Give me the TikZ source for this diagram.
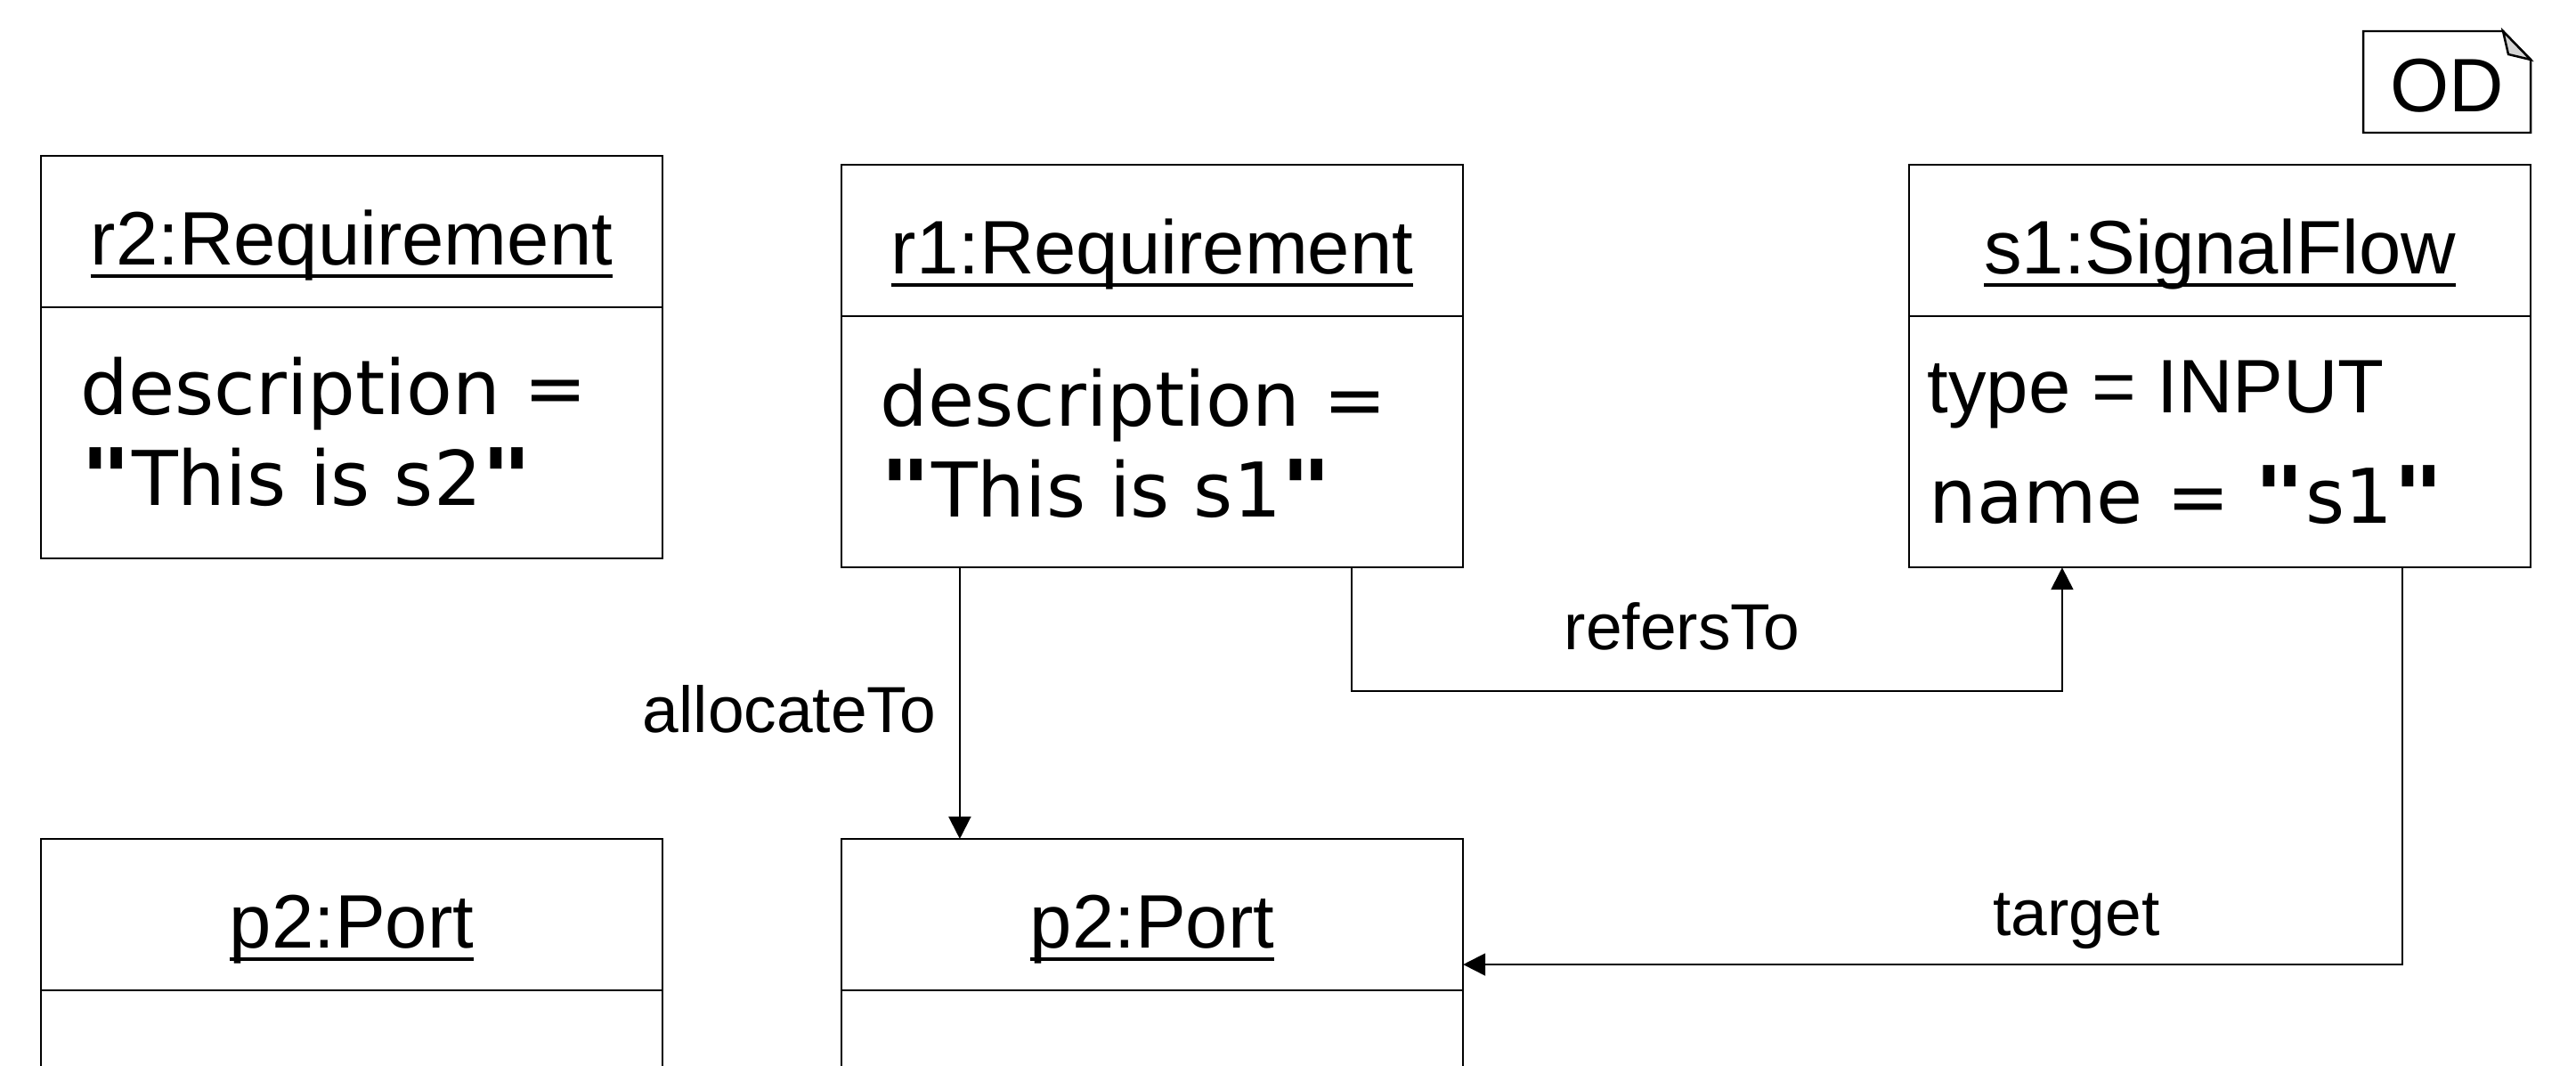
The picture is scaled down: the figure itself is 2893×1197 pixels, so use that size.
\documentclass[tikz,border=0pt]{standalone}
\usepackage{fontspec}
\setmainfont{Liberation Sans}
\newfontfamily\attfamily[Ligatures=TeXOff]{DejaVu Sans}
\usepackage{tikz}
\usetikzlibrary{arrows.meta,positioning}
\definecolor{foldgray}{RGB}{212,212,212}
\newcommand{\objfont}{\fontsize{24.2pt}{29pt}\selectfont}
\newcommand{\attfont}{\attfamily\fontsize{24.1pt}{29pt}\selectfont}
\newcommand{\lblfont}{\fontsize{20.8pt}{25pt}\selectfont}
\newcommand{\objname}[1]{\setbox0=\hbox{#1}\rlap{\rule[-0.15cm]{\wd0}{0.04cm}}\box0}
\newcommand{\dq}{\scalebox{1.3}[1.05]{\textbf{"}}}
\tikzstyle{objhead} = [rectangle, draw, line width=0.7pt, outer sep=0pt, minimum width=6.98cm, minimum height=1.7cm, text height=0.9cm, text depth=0.16cm, font=\objfont]
\tikzstyle{objbody} = [rectangle, draw, line width=0.7pt, outer sep=0pt, minimum width=6.98cm, minimum height=2.82cm]
\tikzstyle{attr} = [anchor=base west, inner sep=0pt, font=\attfont]
\tikzstyle{lbl} = [inner sep=0pt, font=\lblfont]
\tikzstyle{link} = [line width=0.6pt, -{Triangle[length=0.25cm,width=0.25cm]}]

\begin{document}
\begin{tikzpicture}[x=0.01cm, y=-0.01cm]
\useasboundingbox (0,0) rectangle (2893,1197);
\clip (0,0) rectangle (2893,1197);

% Diagram kind
\draw[line width=0.7pt] (2654,35) -- (2811,35) -- (2842,67) -- (2842,149) -- (2654,149) -- cycle;
\draw[line width=0.7pt, fill=foldgray] (2811,35) -- (2817,61) -- (2842,67) -- cycle;
\node[anchor=base, inner sep=0pt, font=\objfont] (od) at (2748,126) {OD};

% Requirements
\node[objhead] (r2) at (395,260) {\objname{r2:Requirement}};
\node[objbody, below=0pt of r2] (r2b) {};
\node[attr] (r2desc) at (90,465) {description =};
\node[attr] (r2val) at (90,567) {\dq This is s2\dq};

\node[objhead] (r1) at (1294,270) {\objname{r1:Requirement}};
\node[objbody, below=0pt of r1] (r1b) {};
\node[attr] (r1desc) at (988,478) {description =};
\node[attr] (r1val) at (988,580) {\dq This is s1\dq};

% Signal flow
\node[objhead] (s1) at (2493,270) {\objname{s1:SignalFlow}};
\node[objbody, below=0pt of s1] (s1b) {};
\node[attr, font=\objfont] (s1type) at (2164,463) {type = INPUT};
\node[attr] (s1name) at (2166,587) {name = \dq s1\dq};

% Ports
\node[objhead] (leftport) at (395,1027) {\objname{p2:Port}};
\node[objbody, below=0pt of leftport] (leftportb) {};
\node[objhead] (port) at (1294,1027) {\objname{p2:Port}};
\node[objbody, below=0pt of port] (portb) {};

% Links
\draw[link] ([xshift=1.33cm]r1b.south west) -- ([xshift=1.33cm]port.north west);
\draw[link] ([xshift=5.73cm]r1b.south west) -- ++(0,139) -| ([xshift=1.72cm]s1b.south west);
\draw[link] ([xshift=5.54cm]s1b.south west) |- ([yshift=-0.56cm]port.east);

\node[lbl, anchor=base east] (alloclbl) at (1052,822) {allocateTo};
\node[lbl, anchor=base] (reflbl) at (1889,729) {refersTo};
\node[lbl, anchor=base] (targetlbl) at (2332,1050) {target};
\end{tikzpicture}
\end{document}
